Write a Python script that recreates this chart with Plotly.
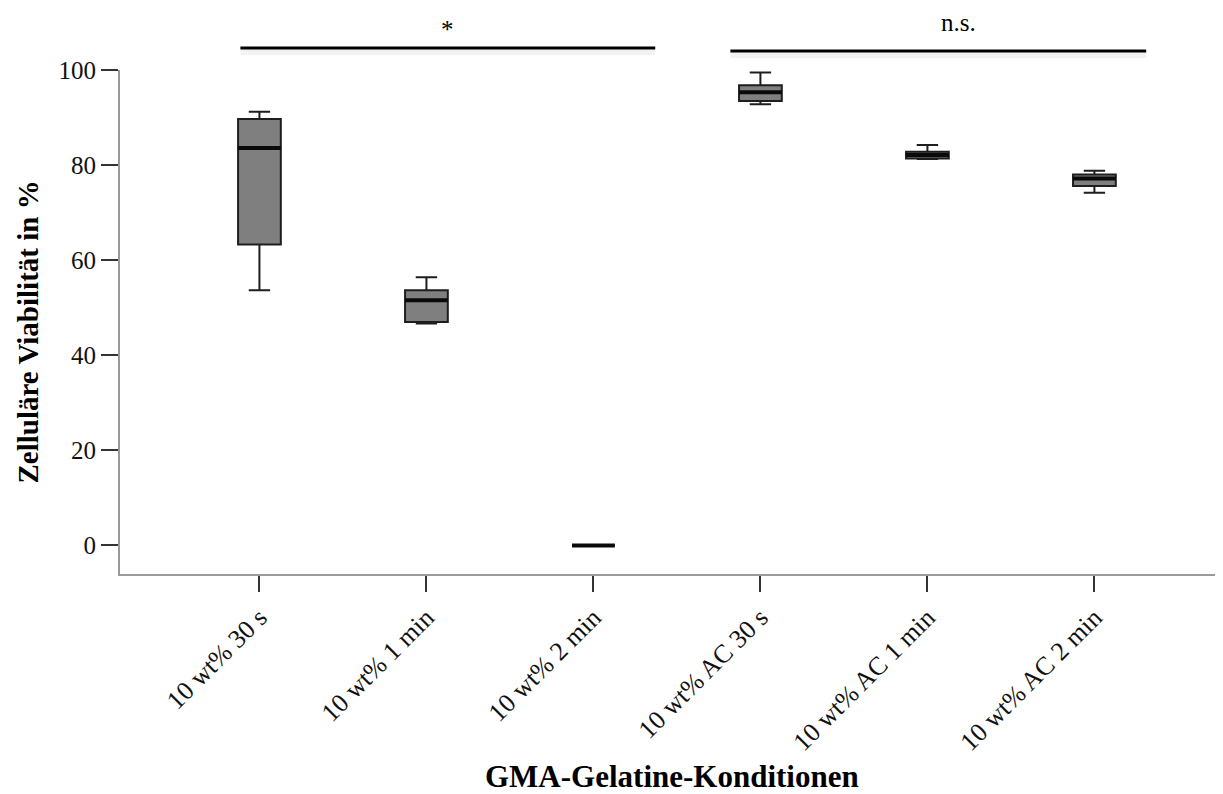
import plotly.graph_objects as go

categories = ["10 wt% 30 s", "10 wt% 1 min", "10 wt% 2 min",
              "10 wt% AC 30 s", "10 wt% AC 1 min", "10 wt% AC 2 min"]
lower_whisker = [53.7, 46.7, 0.0, 92.8, 81.3, 74.2]
q1_values     = [63.3, 47.0, 0.0, 93.5, 81.4, 75.6]
median_values = [83.6, 51.6, 0.0, 95.3, 82.1, 77.2]
q3_values     = [89.7, 53.7, 0.0, 96.8, 82.8, 78.0]
upper_whisker = [91.2, 56.4, 0.0, 99.5, 84.2, 78.8]

y_ticks = [0, 20, 40, 60, 80, 100]

# significance brackets
sig_x0 = [-0.114, 2.82]
sig_x1 = [2.37, 5.31]
sig_labels = ["*", "n.s."]
sig_label_x = [1.126, 4.186]

BOX_W = 0.256
xs = list(range(len(categories)))

fig = go.Figure()
fig.add_trace(go.Box(
    x=xs, q1=q1_values, median=median_values, q3=q3_values,
    lowerfence=lower_whisker, upperfence=upper_whisker,
    width=BOX_W, whiskerwidth=0.5,
    fillcolor="#7f7f7f", line=dict(color="#1e1e1e", width=2),
    boxpoints=False, showlegend=False, hoverinfo="skip",
))

# thicker median lines
mx, my = [], []
for i, m in zip(xs, median_values):
    mx += [i - BOX_W / 2, i + BOX_W / 2, None]
    my += [m, m, None]
fig.add_trace(go.Scatter(x=mx, y=my, mode="lines",
                         line=dict(color="#0a0a0a", width=4),
                         showlegend=False, hoverinfo="skip"))

serif = "Liberation Serif"

shapes = []
annotations = []
sig_y = [1.0437, 1.0377]
label_gap = [0.006, 0.026]
for x0, x1, lab, lx, yy, g in zip(sig_x0, sig_x1, sig_labels, sig_label_x, sig_y, label_gap):
    shapes.append(dict(type="line", xref="x", yref="paper", x0=x0, x1=x1,
                       y0=yy - 0.008, y1=yy - 0.008,
                       line=dict(color="rgba(0,0,0,0.05)", width=6)))
    shapes.append(dict(type="line", xref="x", yref="paper", x0=x0, x1=x1,
                       y0=yy, y1=yy, line=dict(color="#000000", width=3)))
    annotations.append(dict(xref="x", yref="paper", x=lx, y=yy + g,
                            text=lab, showarrow=False, yanchor="bottom",
                            font=dict(family=serif, size=25, color="#000")))

# axis titles
annotations.append(dict(xref="paper", yref="paper", x=0.5, y=-0.402,
                        yanchor="middle", xanchor="center", showarrow=False,
                        text="<b>GMA-Gelatine-Konditionen</b>",
                        font=dict(family=serif, size=31, color="#000")))
annotations.append(dict(xref="paper", yref="paper", x=-0.083, y=0.48,
                        yanchor="middle", xanchor="center", showarrow=False,
                        textangle=-90,
                        text="<b>Zelluläre Viabilität in %</b>",
                        font=dict(family=serif, size=29, color="#000")))

# page body has an 8px margin, so the figure is sized/margined to compensate
fig.update_layout(
    width=1215, height=786,
    margin=dict(l=112, r=0, t=62, b=220, autoexpand=False),
    paper_bgcolor="white", plot_bgcolor="white",
    font=dict(family=serif, size=25, color="#111"),
    shapes=shapes, annotations=annotations,
    xaxis=dict(
        range=[-0.835, 5.77], tickmode="array", tickvals=xs, ticktext=categories,
        tickangle=-45, ticks="outside", ticklen=16, tickwidth=2, tickcolor="#333",
        showline=True, linecolor="#9a9a9a", linewidth=2, showgrid=False,
        zeroline=False, automargin=False,
        tickfont=dict(family=serif, size=26, color="#111"),
    ),
    yaxis=dict(
        range=[-6, 100], tickmode="array", tickvals=y_ticks,
        ticks="outside", ticklen=17, tickwidth=2, tickcolor="#333",
        showline=True, linecolor="#9a9a9a", linewidth=2, showgrid=False,
        zeroline=False, automargin=False,
        tickfont=dict(family=serif, size=25, color="#111"),
    ),
)

fig.write_html("out.html")
